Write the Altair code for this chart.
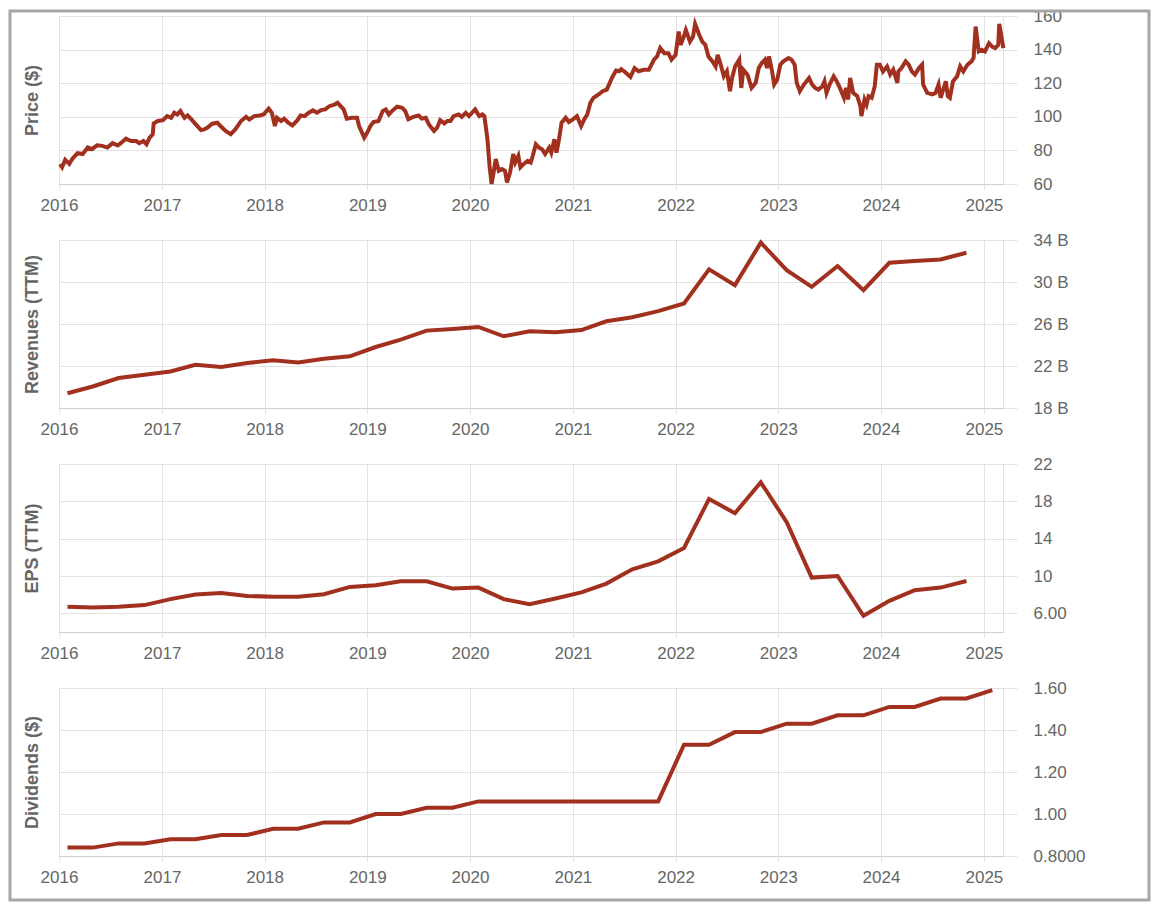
import altair as alt
import pandas as pd

# ---------------- data ----------------
# weekly-ish share price: (decimal year, price $)
price_points = [
    (2016.01, 71.8), (2016.03, 70.0), (2016.06, 74.4), (2016.10, 72.0), (2016.13, 75.0),
    (2016.18, 78.3), (2016.23, 77.8), (2016.28, 81.7), (2016.32, 80.7), (2016.37, 83.0),
    (2016.42, 82.7), (2016.47, 81.7), (2016.52, 84.3), (2016.57, 83.0), (2016.60, 84.3),
    (2016.65, 87.0), (2016.70, 85.6), (2016.75, 85.6), (2016.78, 84.3), (2016.82, 85.6),
    (2016.85, 83.7), (2016.88, 87.6), (2016.91, 89.6), (2016.92, 96.1), (2016.96, 97.5),
    (2017.01, 98.0), (2017.05, 100.4), (2017.09, 99.4), (2017.12, 102.4), (2017.15, 101.4),
    (2017.18, 103.4), (2017.22, 99.4), (2017.25, 100.8), (2017.28, 98.9), (2017.33, 95.5),
    (2017.38, 92.1), (2017.41, 92.5), (2017.44, 93.5), (2017.49, 95.9), (2017.54, 96.5),
    (2017.57, 94.5), (2017.62, 91.6), (2017.67, 89.6), (2017.72, 92.9), (2017.77, 97.5),
    (2017.82, 100.0), (2017.85, 98.4), (2017.90, 100.4), (2017.95, 100.8), (2017.99, 101.4),
    (2018.04, 104.8), (2018.07, 102.4), (2018.10, 94.5), (2018.12, 99.4), (2018.16, 97.5),
    (2018.19, 98.9), (2018.23, 96.5), (2018.27, 94.9), (2018.32, 98.0), (2018.35, 100.8),
    (2018.39, 100.4), (2018.43, 102.4), (2018.47, 103.8), (2018.51, 102.4), (2018.55, 104.0),
    (2018.59, 104.4), (2018.63, 106.3), (2018.68, 107.3), (2018.71, 108.3), (2018.74, 106.3),
    (2018.77, 104.4), (2018.80, 98.9), (2018.85, 99.4), (2018.90, 99.4), (2018.92, 94.5),
    (2018.97, 87.6), (2019.00, 90.6), (2019.03, 94.5), (2019.06, 96.9), (2019.11, 97.5),
    (2019.15, 103.4), (2019.18, 104.4), (2019.21, 101.4), (2019.24, 103.4), (2019.29, 106.0),
    (2019.34, 105.4), (2019.37, 103.4), (2019.40, 98.5), (2019.45, 100.0), (2019.50, 100.8),
    (2019.53, 98.9), (2019.57, 99.4), (2019.60, 95.5), (2019.65, 91.6), (2019.68, 93.5),
    (2019.71, 98.0), (2019.75, 96.1), (2019.78, 97.5), (2019.81, 97.5), (2019.84, 100.4),
    (2019.89, 101.4), (2019.92, 100.0), (2019.96, 102.4), (2019.99, 100.4), (2020.02, 102.4),
    (2020.05, 104.4), (2020.09, 100.4), (2020.12, 101.4), (2020.14, 100.4), (2020.17, 86.6),
    (2020.19, 70.9), (2020.21, 60.0), (2020.23, 66.9), (2020.25, 74.8), (2020.28, 67.9),
    (2020.31, 68.9), (2020.34, 67.9), (2020.36, 61.0), (2020.39, 66.9), (2020.42, 77.8),
    (2020.44, 72.8), (2020.47, 76.8), (2020.49, 69.9), (2020.52, 71.8), (2020.56, 73.8),
    (2020.59, 72.8), (2020.61, 76.8), (2020.64, 83.7), (2020.67, 81.7), (2020.70, 80.7),
    (2020.73, 77.8), (2020.77, 81.7), (2020.79, 78.7), (2020.82, 86.6), (2020.84, 78.7),
    (2020.86, 84.7), (2020.89, 96.5), (2020.93, 99.4), (2020.96, 96.9), (2021.00, 98.5),
    (2021.04, 100.4), (2021.08, 94.5), (2021.11, 98.5), (2021.14, 101.4), (2021.17, 108.3),
    (2021.20, 111.3), (2021.25, 113.3), (2021.29, 115.2), (2021.33, 116.2), (2021.38, 123.1),
    (2021.42, 127.5), (2021.45, 127.1), (2021.47, 128.4), (2021.51, 126.5), (2021.56, 123.7),
    (2021.60, 129.0), (2021.64, 127.1), (2021.69, 128.0), (2021.74, 128.0), (2021.79, 134.0),
    (2021.82, 135.9), (2021.85, 140.9), (2021.89, 137.9), (2021.93, 137.9), (2021.96, 134.0),
    (2022.00, 136.9), (2022.03, 150.7), (2022.05, 142.8), (2022.08, 147.8), (2022.10, 151.7),
    (2022.14, 144.8), (2022.17, 147.8), (2022.19, 155.3), (2022.23, 148.8), (2022.26, 144.8),
    (2022.29, 142.8), (2022.32, 135.9), (2022.36, 133.0), (2022.39, 130.0), (2022.41, 136.9),
    (2022.44, 131.0), (2022.47, 124.1), (2022.50, 127.1), (2022.53, 115.2), (2022.55, 123.1),
    (2022.58, 130.0), (2022.62, 134.0), (2022.64, 117.2), (2022.66, 128.0), (2022.70, 125.1),
    (2022.74, 117.2), (2022.78, 120.2), (2022.81, 129.0), (2022.84, 132.0), (2022.87, 134.0),
    (2022.89, 129.0), (2022.91, 135.9), (2022.94, 127.0), (2022.96, 119.2), (2022.99, 122.1),
    (2023.02, 131.0), (2023.05, 133.0), (2023.10, 135.0), (2023.13, 134.0), (2023.16, 131.0),
    (2023.18, 120.2), (2023.21, 115.2), (2023.25, 119.2), (2023.30, 123.1), (2023.33, 119.2),
    (2023.36, 117.2), (2023.39, 116.2), (2023.43, 118.2), (2023.45, 121.1), (2023.47, 114.2),
    (2023.50, 119.2), (2023.54, 124.1), (2023.57, 121.1), (2023.60, 117.2), (2023.64, 111.3),
    (2023.66, 117.2), (2023.68, 110.3), (2023.70, 123.1), (2023.73, 114.2), (2023.77, 112.3),
    (2023.80, 106.4), (2023.81, 100.4), (2023.84, 110.3), (2023.86, 107.3), (2023.88, 112.3),
    (2023.91, 111.3), (2023.94, 118.2), (2023.96, 131.0), (2023.99, 131.0), (2024.02, 127.0),
    (2024.06, 130.0), (2024.09, 125.1), (2024.12, 128.0), (2024.16, 120.2), (2024.17, 127.0),
    (2024.20, 129.0), (2024.24, 133.0), (2024.27, 131.0), (2024.30, 127.0), (2024.33, 125.1),
    (2024.37, 129.0), (2024.40, 131.0), (2024.41, 119.2), (2024.45, 114.2), (2024.50, 113.3),
    (2024.53, 114.2), (2024.56, 119.2), (2024.58, 111.3), (2024.60, 115.2), (2024.63, 121.1),
    (2024.65, 112.3), (2024.67, 111.3), (2024.70, 121.1), (2024.74, 124.1), (2024.77, 130.0),
    (2024.80, 127.0), (2024.84, 131.0), (2024.88, 133.0), (2024.90, 135.0), (2024.92, 153.7),
    (2024.95, 138.9), (2024.98, 139.9), (2025.01, 138.9), (2025.05, 143.8), (2025.08, 141.8),
    (2025.11, 140.9), (2025.14, 142.8), (2025.15, 155.3), (2025.19, 140.9),
]

quarter_ends = ["01-31", "04-30", "07-31", "10-31"]
quarter_years = list(range(2016, 2025))

# revenues TTM, billions $ (one per quarter, 2016-01 .. 2024-10)
revenue_b = [
    19.40, 20.05, 20.85, 21.17,
    21.48, 22.12, 21.90, 22.28,
    22.54, 22.34, 22.70, 22.92,
    23.81, 24.51, 25.37, 25.53,
    25.72, 24.83, 25.31, 25.21,
    25.42, 26.26, 26.64, 27.22,
    27.95, 31.20, 29.70, 33.75,
    31.13, 29.54, 31.52, 29.22,
    31.83, 31.99, 32.15, 32.79,
]

# EPS TTM (one per quarter, 2016-01 .. 2024-10)
eps_ttm = [
    6.70, 6.63, 6.70, 6.88,
    7.52, 8.01, 8.19, 7.87,
    7.77, 7.77, 8.05, 8.83,
    9.01, 9.44, 9.44, 8.65,
    8.76, 7.52, 6.98, 7.59,
    8.25, 9.19, 10.72, 11.57,
    13.00, 18.26, 16.73, 20.04,
    15.77, 9.83, 10.00, 5.74,
    7.34, 8.48, 8.76, 9.47,
]

# dividends $ (one per quarter, 2016-01 .. 2025-01)
dividends = [
    0.84, 0.84, 0.86, 0.86,
    0.88, 0.88, 0.90, 0.90,
    0.93, 0.93, 0.96, 0.96,
    1.00, 1.00, 1.03, 1.03,
    1.06, 1.06, 1.06, 1.06,
    1.06, 1.06, 1.06, 1.06,
    1.33, 1.33, 1.39, 1.39,
    1.43, 1.43, 1.47, 1.47,
    1.51, 1.51, 1.55, 1.55,
    1.59,
]

year_ticks = list(range(2016, 2026))
price_ticks = [60, 80, 100, 120, 140, 160]
revenue_ticks = [18, 22, 26, 30, 34]
eps_ticks = [6, 10, 14, 18, 22]
dividend_ticks = [0.8, 1.0, 1.2, 1.4, 1.6]

# ---------------- tables ----------------
def decimal_year(y):
    yr = int(y)
    start = pd.Timestamp(year=yr, month=1, day=1)
    end = pd.Timestamp(year=yr + 1, month=1, day=1)
    return start + (end - start) * (y - yr)

q_dates = [pd.Timestamp(f"{y}-{md}") for y in quarter_years for md in quarter_ends]

price_df = pd.DataFrame({"date": [decimal_year(y) for y, _ in price_points],
                         "value": [v for _, v in price_points]})
revenue_df = pd.DataFrame({"date": q_dates, "value": revenue_b})
eps_df = pd.DataFrame({"date": q_dates, "value": eps_ttm})
div_df = pd.DataFrame({"date": q_dates + [pd.Timestamp("2025-01-31")], "value": dividends})

# ---------------- styling ----------------
W, H = 944, 168
LINE = "#a2301f"
GRID = "#e2e2e2"
AXIS = "#cfcfcf"
TXT = "#666666"
FONT = "Liberation Sans"
FS = 17

x_enc = alt.X(
    "date:T",
    scale=alt.Scale(domain=[alt.DateTime(year=2016, month=1, date=1),
                            alt.DateTime(year=2025, month=3, date=10)], nice=False),
    axis=alt.Axis(title=None, format="%Y",
                  values=[alt.DateTime(year=y, month=1, date=1) for y in year_ticks],
                  grid=True, gridColor=GRID, tickColor=GRID, tickSize=5,
                  domainColor=AXIS, labelFontSize=FS, labelColor=TXT, labelFont=FONT,
                  labelPadding=8, labelFlush=False),
)


def y_enc(title, domain, ticks, label_expr=None):
    kw = dict(title=title, orient="right", values=ticks, grid=True, gridColor=GRID,
              tickColor=GRID, tickSize=14, domain=True, domainColor=GRID,
              labelFontSize=FS, labelColor=TXT, labelFont=FONT, labelPadding=16,
              labelFlush=False,
              titleFont=FONT, titleFontSize=18, titleFontWeight="bold", titleColor=TXT,
              titleAngle=270, titleX=-(W + 27), titleY=H / 2,
              titleAlign="center", titleBaseline="middle")
    if label_expr:
        kw["labelExpr"] = label_expr
    return alt.Y("value:Q", scale=alt.Scale(domain=domain, nice=False, zero=False),
                 axis=alt.Axis(**kw))


def panel(df, title, domain, ticks, label_expr=None):
    return alt.Chart(df).mark_line(color=LINE, strokeWidth=4).encode(
        x=x_enc, y=y_enc(title, domain, ticks, label_expr)
    ).properties(width=W, height=H)


p_price = panel(price_df, "Price ($)", [60, 160], price_ticks)
p_rev = panel(revenue_df, "Revenues (TTM)", [18, 34], revenue_ticks, "datum.value + ' B'")
p_eps = panel(eps_df, "EPS (TTM)", [4, 22], eps_ticks,
              "datum.value == 6 ? '6.00' : '' + datum.value")
p_div = panel(div_df, "Dividends ($)", [0.8, 1.6], dividend_ticks,
              "datum.value < 0.9 ? '0.8000' : format(datum.value, '.2f')")

# decorative grey frame around the whole figure
frame = alt.Chart(pd.DataFrame({"k": [0]})).mark_rect(
    fillOpacity=0, stroke="#a6a6a6", strokeWidth=3
).encode(x=alt.value(-49), x2=alt.value(W + 146), y=alt.value(-5), y2=alt.value(884))

top = alt.layer(p_price, frame).properties(width=W, height=H)

chart = alt.vconcat(top, p_rev, p_eps, p_div, spacing=56, bounds="flush").properties(
    padding={"top": -2, "left": 0, "right": 0, "bottom": 0}, background="#ffffff"
).configure_view(strokeWidth=0).configure(font=FONT)

chart.save("out.html", embed_options={"renderer": "svg", "actions": False})
